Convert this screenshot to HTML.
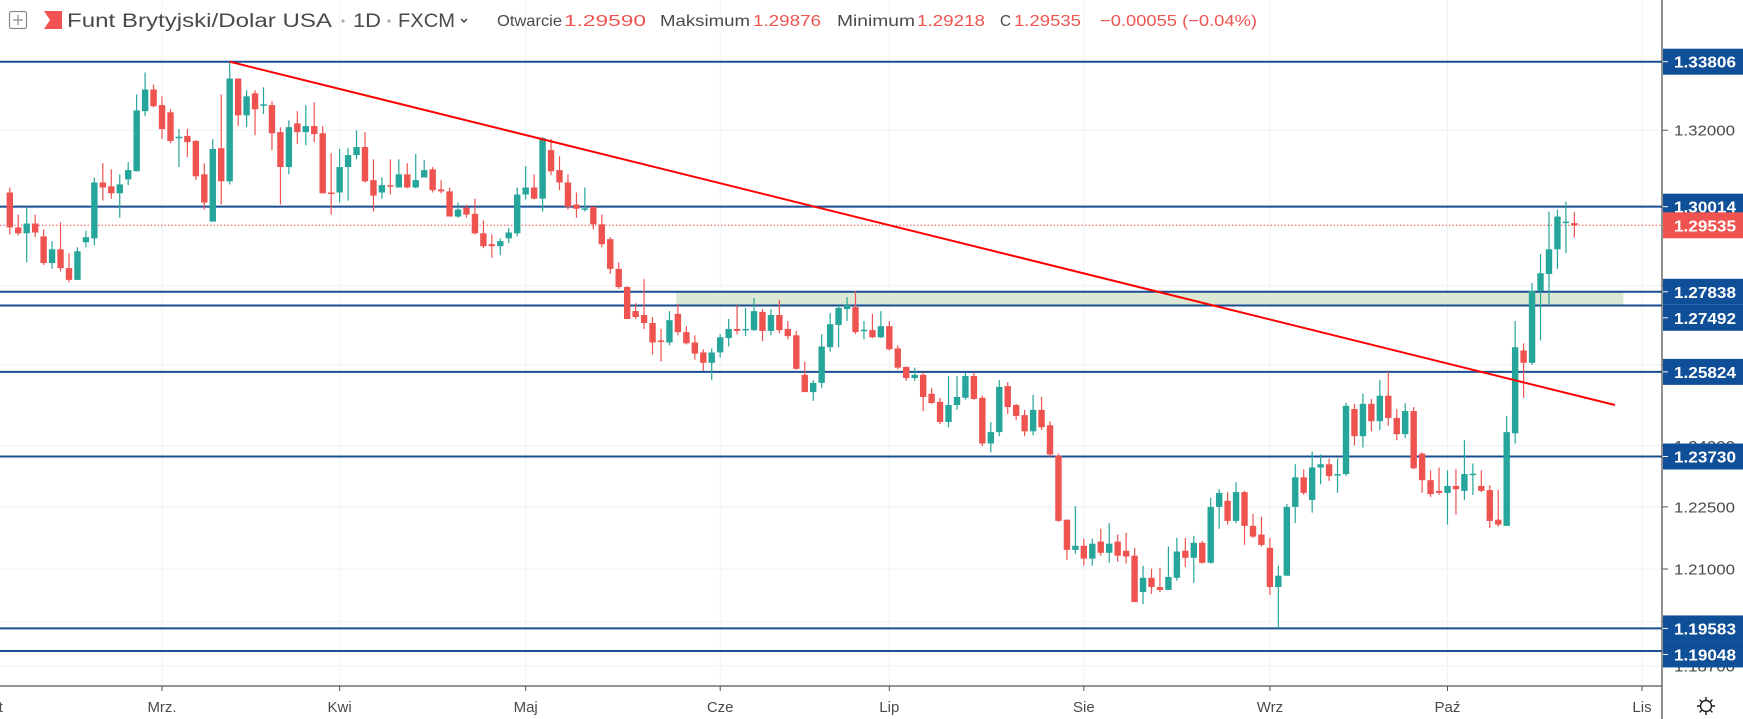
<!DOCTYPE html>
<html><head><meta charset="utf-8"><style>
html,body{margin:0;padding:0;background:#fff;}
svg{display:block;font-family:"Liberation Sans",Arial,sans-serif;}
</style></head><body>
<svg id="chart" width="1743" height="719" viewBox="0 0 1743 719" xmlns="http://www.w3.org/2000/svg">
<rect x="0" y="0" width="1743" height="719" fill="#ffffff"/>
<g id="grid"></g>
<g id="levels"></g>
<g id="candles"></g>
<g id="overlay"></g>
<g id="axes"></g>
<g id="header">
  <rect x="9.5" y="11.5" width="17" height="17" rx="2" fill="none" stroke="#888" stroke-width="1.2"/>
  <line x1="13" y1="20" x2="23" y2="20" stroke="#888" stroke-width="1.2"/>
  <line x1="18" y1="15" x2="18" y2="25" stroke="#888" stroke-width="1.2"/>
  <path d="M44 11 H62 V29 H44 L50 20 Z" fill="#f05350"/>
  <text x="67" y="27" font-size="19" fill="#4a4a4a" textLength="265" lengthAdjust="spacingAndGlyphs">Funt Brytyjski/Dolar USA</text>
  <circle cx="343" cy="21" r="1.6" fill="#aaa"/>
  <text x="353" y="27" font-size="19" fill="#4a4a4a" textLength="28" lengthAdjust="spacingAndGlyphs">1D</text>
  <circle cx="389" cy="21" r="1.6" fill="#aaa"/>
  <text x="398" y="27" font-size="19" fill="#4a4a4a" textLength="57" lengthAdjust="spacingAndGlyphs">FXCM</text>
  <path d="M461 19 L464 22 L467 19" fill="none" stroke="#333" stroke-width="1.4"/>
  <text x="497" y="26" font-size="16" fill="#4a4a4a" textLength="65" lengthAdjust="spacingAndGlyphs">Otwarcie</text>
  <text x="564" y="26" font-size="16" fill="#ef5350" textLength="82" lengthAdjust="spacingAndGlyphs">1.29590</text>
  <text x="660" y="26" font-size="16" fill="#4a4a4a" textLength="90" lengthAdjust="spacingAndGlyphs">Maksimum</text>
  <text x="753" y="26" font-size="16" fill="#ef5350" textLength="68" lengthAdjust="spacingAndGlyphs">1.29876</text>
  <text x="837" y="26" font-size="16" fill="#4a4a4a" textLength="78" lengthAdjust="spacingAndGlyphs">Minimum</text>
  <text x="917" y="26" font-size="16" fill="#ef5350" textLength="68" lengthAdjust="spacingAndGlyphs">1.29218</text>
  <text x="1000" y="26" font-size="16" fill="#4a4a4a" textLength="11" lengthAdjust="spacingAndGlyphs">C</text>
  <text x="1014" y="26" font-size="16" fill="#ef5350" textLength="67" lengthAdjust="spacingAndGlyphs">1.29535</text>
  <text x="1100" y="26" font-size="16" fill="#ef5350" textLength="157" lengthAdjust="spacingAndGlyphs">−0.00055 (−0.04%)</text>
</g>
<g transform="translate(1706,706)">
  <circle cx="0" cy="0" r="5.5" fill="none" stroke="#222" stroke-width="1.4"/>
  <path d="M0 -9 V-6 M0 6 V9 M-9 0 H-6 M6 0 H9 M-6.4 -6.4 L-4.3 -4.3 M4.3 4.3 L6.4 6.4 M-6.4 6.4 L-4.3 4.3 M4.3 -4.3 L6.4 -6.4" stroke="#222" stroke-width="1.4"/>
</g>
</svg>
<script>
// ---- data ----
const opens=[1.3038,1.2948,1.2933,1.2958,1.2925,1.2857,1.2892,1.2844,1.2814,1.2910,1.2920,1.3064,1.3054,1.3036,1.3072,1.3093,1.3250,1.3307,1.3266,1.3247,1.3180,1.3185,1.3172,1.3085,1.2963,1.3153,1.3067,1.3336,1.3239,1.3297,1.3266,1.3266,1.3195,1.3104,1.3218,1.3195,1.3211,1.3192,1.3038,1.3038,1.3104,1.3135,1.3156,1.3070,1.3038,1.3057,1.3051,1.3085,1.3051,1.3077,1.3098,1.3046,1.3041,1.2976,1.2999,1.2983,1.2933,1.2905,1.2900,1.2920,1.2933,1.3033,1.3051,1.3022,1.3148,1.3096,1.3064,1.3007,1.2996,1.3001,1.2956,1.2918,1.2842,1.2796,1.2735,1.2725,1.2705,1.2661,1.2656,1.2728,1.2682,1.2656,1.2631,1.2605,1.2631,1.2667,1.2690,1.2687,1.2687,1.2733,1.2685,1.2725,1.2690,1.2674,1.2575,1.2532,1.2555,1.2644,1.2700,1.2740,1.2745,1.2687,1.2687,1.2669,1.2697,1.2641,1.2595,1.2567,1.2575,1.2528,1.2508,1.2458,1.2500,1.2518,1.2572,1.2518,1.2405,1.2433,1.2547,1.2500,1.2475,1.2435,1.2488,1.2450,1.2375,1.2219,1.2146,1.2156,1.2125,1.2166,1.2139,1.2166,1.2144,1.2132,1.2045,1.2079,1.2057,1.2050,1.2079,1.2144,1.2127,1.2163,1.2115,1.2250,1.2265,1.2216,1.2286,1.2204,1.2183,1.2151,1.2057,1.2084,1.2250,1.2322,1.2267,1.2346,1.2354,1.2327,1.2330,1.2490,1.2423,1.2503,1.2460,1.2523,1.2468,1.2428,1.2485,1.2380,1.2315,1.2289,1.2284,1.2301,1.2289,1.2330,1.2301,1.2291,1.2219,1.2204,1.2430,1.2636,1.2605,1.2786,1.2829,1.2892,1.2961,1.29590];
const highs=[1.3051,1.2981,1.2999,1.2981,1.2943,1.2913,1.2961,1.2882,1.2897,1.2940,1.3077,1.3114,1.3098,1.3085,1.3117,1.3294,1.3352,1.3320,1.3289,1.3255,1.3203,1.3203,1.3174,1.3114,1.3177,1.3294,1.33806,1.3336,1.3305,1.3305,1.3313,1.3276,1.3208,1.3226,1.3250,1.3266,1.3273,1.3211,1.3140,1.3151,1.3153,1.3200,1.3195,1.3124,1.3077,1.3124,1.3124,1.3114,1.3138,1.3122,1.3104,1.3070,1.3051,1.3012,1.3007,1.3022,1.2966,1.2930,1.2920,1.2946,1.3051,1.3106,1.3085,1.3182,1.3177,1.3132,1.3085,1.3038,1.3051,1.3001,1.2981,1.2923,1.2859,1.2798,1.2755,1.2816,1.2720,1.2690,1.2735,1.2753,1.2697,1.2674,1.2639,1.2641,1.2677,1.2715,1.2750,1.2743,1.2768,1.2740,1.2740,1.2763,1.2710,1.2685,1.2608,1.2562,1.2677,1.2730,1.2753,1.2770,1.2786,1.2710,1.2728,1.2735,1.2710,1.2649,1.2595,1.2593,1.2582,1.2542,1.2518,1.2572,1.2572,1.2580,1.2580,1.2523,1.2458,1.2562,1.2557,1.2503,1.2488,1.2525,1.2520,1.2460,1.2380,1.2219,1.2252,1.2173,1.2173,1.2197,1.2211,1.2183,1.2187,1.2151,1.2108,1.2101,1.2103,1.2154,1.2175,1.2175,1.2180,1.2168,1.2272,1.2293,1.2286,1.2310,1.2289,1.2233,1.2226,1.2175,1.2108,1.2257,1.2354,1.2342,1.2385,1.2378,1.2368,1.2368,1.2505,1.2503,1.2528,1.2515,1.2562,1.25824,1.2490,1.2505,1.2495,1.2383,1.2339,1.2346,1.2339,1.2342,1.2413,1.2356,1.2339,1.2303,1.2291,1.2473,1.2710,1.2654,1.2806,1.2880,1.2989,1.2994,1.3014,1.29876];
const lows=[1.2930,1.2928,1.2859,1.2923,1.2852,1.2842,1.2836,1.2808,1.2814,1.2897,1.2902,1.3017,1.3022,1.2973,1.3057,1.3093,1.3237,1.3260,1.3177,1.3166,1.3104,1.3130,1.3070,1.2994,1.2963,1.3007,1.3059,1.3211,1.3208,1.3187,1.3242,1.3148,1.3007,1.3085,1.3164,1.3161,1.3169,1.3036,1.2981,1.3012,1.3017,1.3124,1.3064,1.2989,1.3022,1.3033,1.3051,1.3049,1.3049,1.3077,1.3038,1.3036,1.2976,1.2973,1.2973,1.2930,1.2895,1.2870,1.2877,1.2908,1.2925,1.3020,1.3020,1.2989,1.3083,1.3044,1.2994,1.2973,1.2989,1.2943,1.2897,1.2829,1.2791,1.2715,1.2715,1.2690,1.2626,1.2608,1.2649,1.2674,1.2651,1.2613,1.2585,1.2562,1.2618,1.2646,1.2677,1.2672,1.2685,1.2659,1.2674,1.2679,1.2664,1.2588,1.2532,1.2510,1.2542,1.2633,1.2644,1.2710,1.2677,1.2664,1.2667,1.2667,1.2636,1.2588,1.2560,1.2560,1.2485,1.2503,1.2453,1.2445,1.2488,1.2513,1.2513,1.2398,1.2383,1.2423,1.2478,1.2463,1.2423,1.2425,1.2438,1.2373,1.2214,1.2122,1.2137,1.2108,1.2108,1.2132,1.2115,1.2117,1.2113,1.2021,1.2016,1.2040,1.2045,1.2050,1.2072,1.2105,1.2067,1.2113,1.2113,1.2197,1.2207,1.2211,1.2158,1.2175,1.2154,1.2038,1.19583,1.2084,1.2211,1.2279,1.2236,1.2305,1.2313,1.2284,1.2325,1.2400,1.2395,1.2435,1.2438,1.2448,1.2413,1.2418,1.2342,1.2284,1.2274,1.2279,1.2207,1.2231,1.2267,1.2279,1.2286,1.2199,1.2202,1.2204,1.2405,1.2518,1.2600,1.2661,1.2753,1.2842,1.2882,1.29218];
const closes=[1.2948,1.2933,1.2958,1.2935,1.2857,1.2892,1.2844,1.2814,1.2887,1.2923,1.3064,1.3051,1.3036,1.3059,1.3096,1.3252,1.3307,1.3263,1.3203,1.3172,1.3183,1.3169,1.3080,1.3012,1.3151,1.3067,1.3336,1.3239,1.3289,1.3255,1.3268,1.3192,1.3104,1.3208,1.3195,1.3211,1.3190,1.3036,1.3036,1.3104,1.3135,1.3156,1.3067,1.3030,1.3057,1.3054,1.3085,1.3051,1.3070,1.3096,1.3044,1.3041,1.2976,1.2994,1.2981,1.2933,1.2900,1.2900,1.2913,1.2935,1.3033,1.3051,1.3022,1.3179,1.3093,1.3064,1.3001,1.2996,1.2997,1.2956,1.2905,1.2842,1.2796,1.2715,1.2720,1.2705,1.2656,1.2659,1.2712,1.2682,1.2654,1.2628,1.2605,1.2631,1.2669,1.2690,1.2685,1.2690,1.2735,1.2685,1.2725,1.2687,1.2672,1.2590,1.2532,1.2555,1.2646,1.2702,1.2743,1.2750,1.2682,1.2688,1.2669,1.2697,1.2639,1.2593,1.2567,1.2575,1.2520,1.2505,1.2458,1.2500,1.2520,1.2572,1.2515,1.2405,1.2433,1.2545,1.2495,1.2473,1.2435,1.2488,1.2445,1.2378,1.2216,1.2146,1.2156,1.2125,1.2161,1.2139,1.2161,1.2132,1.2130,1.2021,1.2079,1.2057,1.2050,1.2081,1.2142,1.2127,1.2163,1.2115,1.2250,1.2284,1.2216,1.2286,1.2204,1.2178,1.2158,1.2057,1.2084,1.2250,1.2322,1.2284,1.2346,1.2354,1.2325,1.2330,1.2498,1.2423,1.2503,1.2460,1.2523,1.2468,1.2428,1.2485,1.2344,1.2315,1.2281,1.2284,1.2301,1.2293,1.2330,1.2331,1.2289,1.2216,1.2207,1.2433,1.2644,1.2605,1.2786,1.2831,1.2892,1.2976,1.2963,1.29535];
const levelPrices=[1.33806,1.30014,1.27838,1.27492,1.25824,1.23730,1.19583,1.19048];
const levelLabels=["1.33806","1.30014","1.27838","1.27492","1.25824","1.23730","1.19583","1.19048"];
const gridPrices=[1.32,1.30,1.28,1.26,1.24,1.225,1.21,1.1975,1.187];
const gridLabels=["1.32000","1.30000","1.28000","1.26000","1.24000","1.22500","1.21000","1.19750","1.18700"];
const monthIdx=[18,39,61,84,104,127,149,170,193];
const monthLabels=["Mrz.","Kwi","Maj","Cze","Lip","Sie","Wrz","Paź","Lis"];
const lastPrice=1.29535;
const zoneTop=1.27838, zoneBottom=1.27492, zoneStartIdx=78.8, zoneEndIdx=190.8;
const trendStart={i:26,p:1.33806};
const trendEnd={i:189.8,p:1.2500};

// ---- scales ----
const PLOT_R=1662, PLOT_B=686;
const LN0=Math.log(1.33806), Y0=61.7, K=5043;
function yS(p){return Y0+K*(LN0-Math.log(p));}
function xS(i){return 9.8+8.457*i;}
const NS="http://www.w3.org/2000/svg";
function mk(tag,attrs,parent){const e=document.createElementNS(NS,tag);for(const k in attrs)e.setAttribute(k,attrs[k]);parent.appendChild(e);return e;}

const grid=document.getElementById('grid');
gridPrices.forEach(function(p){
  const l=mk('line',{x1:0,x2:PLOT_R,y1:yS(p),y2:yS(p),stroke:'#eef2f6','stroke-width':1},grid);
  
  
});
monthIdx.forEach(function(i){
  const l=mk('line',{x1:xS(i),x2:xS(i),y1:0,y2:PLOT_B,stroke:'#eef2f6','stroke-width':1},grid);
  
  
});

// zone + levels
const lv=document.getElementById('levels');
const zone=mk('rect',{x:xS(zoneStartIdx),y:yS(zoneTop),width:xS(zoneEndIdx)-xS(zoneStartIdx),height:yS(zoneBottom)-yS(zoneTop),fill:'#dbe8d4'},lv);


levelPrices.forEach(function(p){
  const l=mk('line',{x1:0,x2:PLOT_R,y1:yS(p),y2:yS(p),stroke:'#1a4e93','stroke-width':2},lv);
  
  
});
const dl=mk('line',{x1:0,x2:PLOT_R,y1:yS(lastPrice),y2:yS(lastPrice),stroke:'#ef5350','stroke-width':1,'stroke-dasharray':'1.5,2'},lv);



// candles
const cg=document.getElementById('candles');
closes.forEach(function(c,i){
  const o=opens[i],h=highs[i],l=lows[i];
  const col=c>=o?'#26a69a':'#ef5350';
  const g=mk('g',{},cg);
  
  
  const x=xS(i);
  mk('line',{x1:x,x2:x,y1:yS(h),y2:yS(l),stroke:col,'stroke-width':1.2},g);
  const yt=yS(Math.max(o,c)), yb=yS(Math.min(o,c));
  mk('rect',{x:x-3.2,y:yt,width:6.4,height:Math.max(1.5,yb-yt),fill:col},g);
});

// trendline
const ov=document.getElementById('overlay');
const tl=mk('line',{x1:xS(trendStart.i),y1:yS(trendStart.p),x2:xS(trendEnd.i),y2:yS(trendEnd.p),stroke:'#ff0000','stroke-width':2},ov);



// axes
const ax=document.getElementById('axes');
mk('rect',{x:PLOT_R,y:0,width:1743-PLOT_R,height:719,fill:'#fff'},ax);
mk('rect',{x:0,y:PLOT_B,width:PLOT_R,height:719-PLOT_B,fill:'#fff'},ax);
const va=mk('line',{x1:PLOT_R,x2:PLOT_R,y1:0,y2:719,stroke:'#555','stroke-width':1.3},ax);


const ha=mk('line',{x1:0,x2:PLOT_R,y1:PLOT_B,y2:PLOT_B,stroke:'#555','stroke-width':1.3},ax);


gridPrices.forEach(function(p,k){
  const y=yS(p);
  mk('line',{x1:PLOT_R,x2:PLOT_R+6,y1:y,y2:y,stroke:'#555','stroke-width':1},ax);
  const t=mk('text',{x:1674,y:y+5.5,'font-size':15,fill:'#4a4a4a',textLength:61,lengthAdjust:'spacingAndGlyphs'},ax);
  t.textContent=gridLabels[k];
  
  
});
// level labels with collision push
let prevBottom=-1e9;
levelPrices.forEach(function(p,k){
  let cy=yS(p); if(cy-13<prevBottom) cy=prevBottom+13; prevBottom=cy+13;
  const b=mk('rect',{x:PLOT_R+1,y:cy-13,width:1743-PLOT_R,height:26,fill:'#0f4f97'},ax);
  
  
  mk('line',{x1:PLOT_R+1,x2:PLOT_R+6,y1:cy,y2:cy,stroke:'#fff','stroke-width':1},ax);
  const t=mk('text',{x:1674,y:cy+6,'font-size':16,'font-weight':'bold',fill:'#fff',textLength:62,lengthAdjust:'spacingAndGlyphs'},ax);
  t.textContent=levelLabels[k];
});
const ly=yS(lastPrice);
const lb=mk('rect',{x:PLOT_R+1,y:ly-13,width:1743-PLOT_R,height:26,fill:'#ef5350'},ax);


const lt=mk('text',{x:1674,y:ly+6,'font-size':16,'font-weight':'bold',fill:'#fff',textLength:62,lengthAdjust:'spacingAndGlyphs'},ax);
lt.textContent=lastPrice.toFixed(5);
// month labels
const ft=mk('text',{x:-18,y:712,'font-size':15,fill:'#4a4a4a'},ax);
ft.textContent='Lut';


monthIdx.forEach(function(i,k){
  const x=xS(i);
  mk('line',{x1:x,x2:x,y1:PLOT_B,y2:PLOT_B+5,stroke:'#555','stroke-width':1},ax);
  const t=mk('text',{x:x,y:712,'font-size':15,fill:'#4a4a4a','text-anchor':'middle'},ax);
  t.textContent=monthLabels[k];
  
  
});
</script>
</body></html>
